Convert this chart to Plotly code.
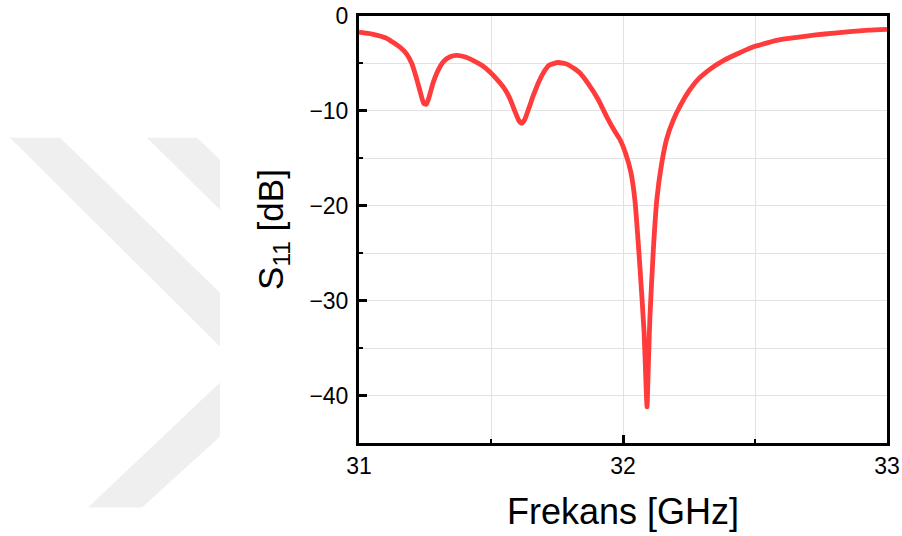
import plotly.graph_objects as go

# ---- data ----
freq = [31.00, 31.05, 31.10, 31.13, 31.16, 31.18, 31.20, 31.215, 31.23, 31.245,
        31.255, 31.265, 31.28, 31.30, 31.32, 31.345, 31.37, 31.40, 31.433, 31.465,
        31.496, 31.52, 31.547, 31.57, 31.59, 31.605, 31.616, 31.628, 31.645, 31.66,
        31.68, 31.698, 31.72, 31.755, 31.79, 31.837, 31.87, 31.906, 31.94, 31.97,
        31.99, 32.01, 32.03, 32.045, 32.064, 32.08, 32.088, 32.091, 32.096, 32.102,
        32.115, 32.128, 32.145, 32.165, 32.19, 32.216, 32.25, 32.28, 32.33, 32.38,
        32.44, 32.50, 32.55, 32.595, 32.66, 32.73, 32.80, 32.86, 32.93, 33.00]
s11 = [-1.7, -1.9, -2.3, -2.8, -3.4, -4.0, -5.0, -6.3, -7.8, -9.2,
       -9.3, -8.6, -7.1, -5.7, -4.8, -4.3, -4.15, -4.3, -4.7, -5.2,
       -5.9, -6.6, -7.5, -8.6, -10.0, -11.0, -11.3, -10.9, -9.6, -8.4,
       -7.0, -6.0, -5.2, -4.9, -5.1, -6.0, -7.2, -8.8, -10.7, -12.2,
       -13.1, -14.5, -16.5, -19.4, -26.4, -33.4, -39.5, -41.2, -36.9, -31.7,
       -24.6, -19.4, -15.8, -13.0, -11.0, -9.5, -7.9, -6.8, -5.6, -4.7,
       -3.9, -3.2, -2.8, -2.5, -2.25, -2.0, -1.8, -1.65, -1.5, -1.4]

x_tickvals = [31, 32, 33]
x_ticktext = ["31", "32", "33"]
y_tickvals = [0, -10, -20, -30, -40]
y_ticktext = ["0", "\u221210", "\u221220", "\u221230", "\u221240"]

# ---- layout geometry ----
W, H = 902, 536
ML, MT = 359, 16
PW, PH = 528, 427.5
MR, MB = W - ML - PW, H - MT - PH


def px(x, y):
    return (x - ML) / PW, 1 - (y - MT) / PH


def poly(pts):
    s = ""
    for i, (x, y) in enumerate(pts):
        X, Y = px(x, y)
        s += ("M" if i == 0 else "L") + f"{X:.5f},{Y:.5f} "
    return s + "Z"


watermark = [
    [(10, 138), (60, 138), (220, 293), (220, 347)],
    [(147, 138), (197, 138), (220, 160), (220, 210)],
    [(220, 383), (220, 437), (142, 508), (88, 508)],
]
shapes = [dict(type="path", xref="paper", yref="paper", path=poly(p),
               fillcolor="#efefef", line=dict(width=0), layer="below")
          for p in watermark]

fig = go.Figure()
fig.add_trace(go.Scatter(x=freq, y=s11, mode="lines",
                         line=dict(color="#ff3b3b", width=4.8, shape="spline", smoothing=0.5),
                         showlegend=False))

font_family = "Liberation Sans, Arial, sans-serif"
grid = "#e2e2e2"

fig.update_layout(
    template="none",
    width=W, height=H,
    margin=dict(l=ML, r=MR, t=MT, b=MB, pad=0, autoexpand=False),
    paper_bgcolor="white", plot_bgcolor="white",
    font=dict(family=font_family, color="black"),
    shapes=shapes,
    xaxis=dict(
        automargin=False,
        range=[31, 33], tickmode="array", tickvals=x_tickvals, ticktext=x_ticktext,
        ticks="inside", ticklen=8, tickwidth=2.5, tickcolor="black",
        showline=True, linewidth=3, linecolor="black", mirror=True,
        showgrid=True, gridcolor=grid, gridwidth=1.2, zeroline=False,
        minor=dict(tickvals=[31.5, 32.5], ticks="inside", ticklen=4, tickwidth=2,
                   tickcolor="black", showgrid=True, gridcolor=grid, gridwidth=1.2),
        tickfont=dict(size=23), ticklabelstandoff=0,
        title=dict(text="Frekans [GHz]", font=dict(size=36), standoff=22),
    ),
    yaxis=dict(
        automargin=False,
        range=[-45, 0], tickmode="array", tickvals=y_tickvals, ticktext=y_ticktext,
        ticks="inside", ticklen=8, tickwidth=2.5, tickcolor="black",
        showline=True, linewidth=3, linecolor="black", mirror=True,
        showgrid=True, gridcolor=grid, gridwidth=1.2, zeroline=False,
        minor=dict(tickvals=[-5, -15, -25, -35], ticks="inside", ticklen=4, tickwidth=2,
                   tickcolor="black", showgrid=True, gridcolor=grid, gridwidth=1.2),
        tickfont=dict(size=23), ticklabelstandoff=3,
        title=dict(text="S<sub>11</sub> [dB]", font=dict(size=35), standoff=16),
    ),
)

fig.write_html("out.html")
